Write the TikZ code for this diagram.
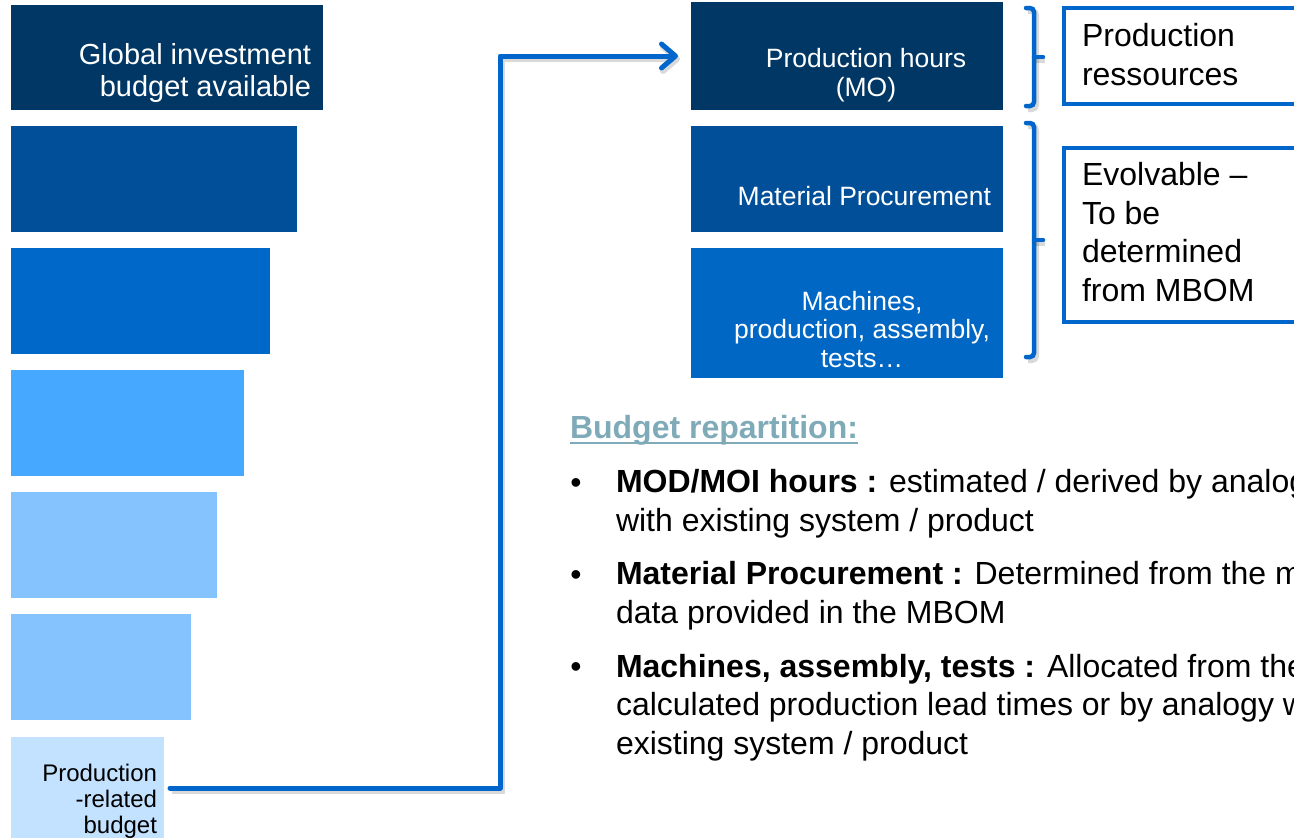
\documentclass[tikz,border=0pt]{standalone}
\usepackage{fontspec}
\setmainfont{Liberation Sans}
\usetikzlibrary{arrows.meta}

\definecolor{navy}{RGB}{0,55,100}
\definecolor{bluetwo}{RGB}{0,79,152}
\definecolor{bluethree}{RGB}{0,104,200}
\definecolor{bluefour}{RGB}{70,168,255}
\definecolor{bluefive}{RGB}{133,195,255}
\definecolor{bluesix}{RGB}{194,226,255}
\definecolor{machblue}{RGB}{0,103,197}
\definecolor{accent}{RGB}{0,102,204}
\definecolor{heading}{RGB}{127,170,184}

\begin{document}
\begin{tikzpicture}[x=1pt,y=-1pt,
  bar/.style={rectangle, inner sep=0pt, outer sep=0pt, anchor=north west, draw=none},
  whitetxt/.style={inner sep=0pt, outer sep=0pt, text=white},
  blacktxt/.style={inner sep=0pt, outer sep=0pt, text=black},
  framebox/.style={rectangle, inner sep=0pt, anchor=north west, draw=accent, line width=4pt, fill=white},
  shade/.style={preaction={draw=black, draw opacity=0.15, line width=6pt, transform canvas={shift={(2pt,-3pt)}}}},
  flow/.style={draw=accent, line width=5pt, line join=round, line cap=round, shade,
    -{Straight Barb[length=14pt, width=24pt, line cap=round, line join=round]}},
  bracket/.style={draw=accent, line width=4.5pt, rounded corners=4pt, line cap=round, shade},
  boxfont/.style={font=\fontsize{26.5}{28.5}\selectfont},
  bigfont/.style={font=\fontsize{32}{38.5}\selectfont}
]
\useasboundingbox (0,0) rectangle (1294,838);
\clip (0,0) rectangle (1294,838);

% budget staircase on the left
\node[bar, fill=navy,      minimum width=312pt, minimum height=105pt] (g1) at (11,5) {};
\node[bar, fill=bluetwo,   minimum width=286pt, minimum height=106pt] (g2) at (11,126) {};
\node[bar, fill=bluethree, minimum width=259pt, minimum height=106pt] (g3) at (11,248) {};
\node[bar, fill=bluefour,  minimum width=233pt, minimum height=106pt] (g4) at (11,370) {};
\node[bar, fill=bluefive,  minimum width=206pt, minimum height=106pt] (g5) at (11,492) {};
\node[bar, fill=bluefive,  minimum width=180pt, minimum height=106pt] (g6) at (11,614) {};
\node[bar, fill=bluesix,   minimum width=153pt, minimum height=110pt] (g7) at (11,737) {};

% multi-line labels are placed by the baseline of their last line
\node[whitetxt, anchor=base east, align=right, font=\fontsize{29}{32}\selectfont] (g1t) at (311,96)
  {Global investment\\budget available};
\node[blacktxt, anchor=base east, align=right, font=\fontsize{24}{26}\selectfont] (g7t) at (157,833)
  {Production\\-related\\budget};

% breakdown boxes
\node[bar, fill=navy,     minimum width=312pt, minimum height=108pt] (mo)   at (691,2) {};
\node[bar, fill=bluetwo,  minimum width=312pt, minimum height=106pt] (mat)  at (691,126) {};
\node[bar, fill=machblue, minimum width=312pt, minimum height=130pt] (mach) at (691,248) {};

\node[whitetxt, anchor=base, align=center, boxfont] (mot) at (866,96) {Production hours\\(MO)};
\node[whitetxt, anchor=base east, boxfont] (matt) at (991,205) {Material Procurement};
\node[whitetxt, anchor=base, align=center, boxfont] (macht) at (862,367)
  {Machines,\\production, assembly,\\tests…};

% grouping brackets
\draw[bracket] (1026,8) -- (1034,8) -- (1034,106) -- (1026,106);
\draw[bracket, rounded corners=2pt] (1034,57) -- (1043,57);
\draw[bracket] (1026,123) -- (1034,123) -- (1034,357) -- (1026,357);
\draw[bracket, rounded corners=2pt] (1034,240) -- (1043,240);

% category frames
\node[framebox, minimum width=280pt, minimum height=96pt]  (res) at (1062,6) {};
\node[framebox, minimum width=280pt, minimum height=174pt] (evo) at (1062,146) {};
\node[blacktxt, anchor=base west, align=left, bigfont] (rest) at (1082,85)
  {Production\\ressources};
\node[blacktxt, anchor=base west, align=left, bigfont] (evot) at (1082,301)
  {Evolvable –\\To be\\determined\\from MBOM};

% link from the production-related budget to the breakdown
\coordinate (turn) at (500,788);
\draw[flow] ([xshift=6pt]g7.east |- turn) -- (turn) |- ([xshift=-13pt]mo.west);

% budget repartition notes
\node[blacktxt, anchor=base west, text=heading, font=\bfseries\fontsize{32}{38}\selectfont] (hd) at (570,438)
  {Budget repartition:};
\draw[draw=heading, line width=2pt] ([yshift=-5pt]hd.base west) -- ([yshift=-5pt]hd.base east);

\node[blacktxt, anchor=base, bigfont] (d1) at (576,493) {•};
\node[blacktxt, anchor=base, bigfont] (d2) at (576,585) {•};
\node[blacktxt, anchor=base, bigfont] (d3) at (576,677) {•};

\node[blacktxt, anchor=base west, align=left, bigfont] (i1) at (616,531)
  {\textbf{MOD/MOI hours :} estimated / derived by analog\\with existing system / product};
\node[blacktxt, anchor=base west, align=left, bigfont] (i2) at (616,623)
  {\textbf{Material Procurement :} Determined from the m\\data provided in the MBOM};
\node[blacktxt, anchor=base west, align=left, bigfont] (i3) at (616,754)
  {\textbf{Machines, assembly, tests :} Allocated from the\\calculated production lead times or by analogy w\\existing system / product};
\end{tikzpicture}
\end{document}
